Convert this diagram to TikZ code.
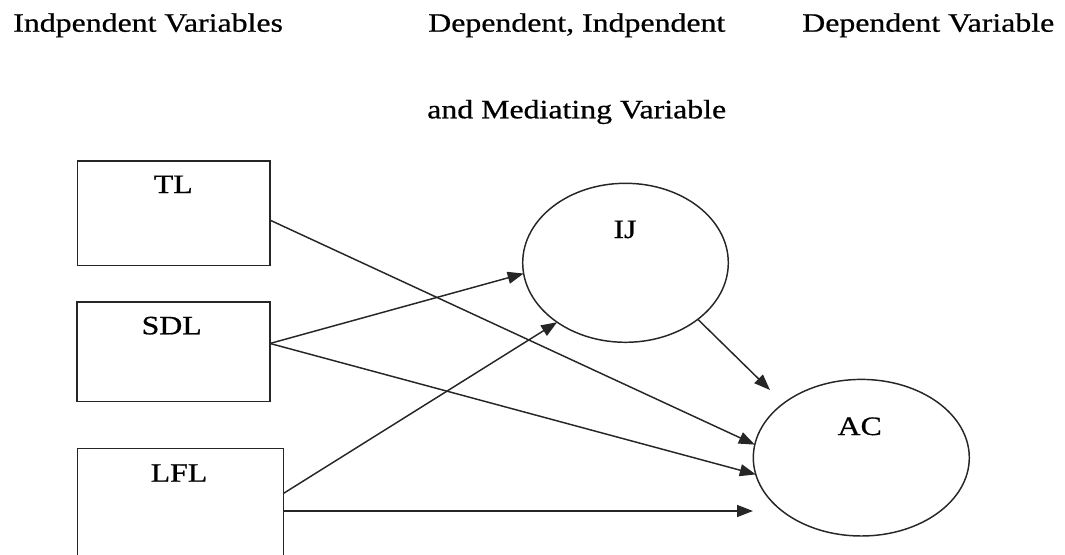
\documentclass[tikz,border=0pt]{standalone}
\usepackage{fontspec}
\setmainfont[FakeStretch=1.2,FakeBold=0.7]{Liberation Serif}
\usetikzlibrary{shapes.geometric,arrows.meta}
\begin{document}
\begin{tikzpicture}[x=0.75pt,y=-0.75pt,
  txt/.style={inner sep=0pt,anchor=base,font=\fontsize{19.9}{24}\selectfont},
  hdr/.style={txt,anchor=base west},
  varbox/.style={draw=black!85,line width=1.1pt,rectangle,inner sep=0pt,outer sep=0pt},
  varell/.style={draw=black!85,line width=1.1pt,ellipse,inner sep=0pt,outer sep=0pt},
  arr/.style={draw=black!85,line width=1.1pt,-{Triangle[length=12pt,width=9pt]}}]
\useasboundingbox (0,0) rectangle (1065,554);
\clip (0,0) rectangle (1065,554);
% shapes
\node[varbox,minimum width={192.7*0.75pt},minimum height={104.7*0.75pt}] (TL) at (173.7,213.4) {};
\node[varbox,minimum width={193*0.75pt},minimum height={99.7*0.75pt}] (SDL) at (173.5,351.9) {};
\node[varbox,minimum width={205.6*0.75pt},minimum height={141.7*0.75pt}] (LFL) at (180.5,519.15) {};
\node[varell,minimum width={205.6*0.75pt},minimum height={159*0.75pt}] (IJ) at (625.5,262.8) {};
\node[varell,minimum width={216*0.75pt},minimum height={156.6*0.75pt}] (AC) at (861.3,457.7) {};
% labels
\node[txt] (tlL) at (173.3,193) {TL};
\node[txt] (sdlL) at (171.7,334.3) {SDL};
\node[txt] (lflL) at (179,481.7) {LFL};
\node[txt] (ijL) at (625,238) {IJ};
\node[txt] (acL) at (859.7,435) {AC};
% headers
\node[hdr] (h1) at (13,31.7) {Indpendent Variables};
\node[hdr] (h2) at (428,31.7) {Dependent, Indpendent};
\node[hdr] (h3) at (802,31.7) {Dependent Variable};
\node[hdr] (h4) at (427,118.3) {and Mediating Variable};
% free ends
\coordinate (acTop) at (770,390);
\coordinate (acLow) at (753,511);
% connectors
\draw[arr] (TL.-4.9) -- (AC.173.8);
\draw[arr] (SDL.5.3) -- (IJ.186.8);
\draw[arr] (SDL.5.3) -- (AC.189.1);
\draw[arr] (LFL.14.27) -- (IJ.221.25);
\draw[arr] (LFL.east |- acLow) -- (acLow);
\draw[arr] (IJ.-38.6) -- (acTop);
\end{tikzpicture}
\end{document}
